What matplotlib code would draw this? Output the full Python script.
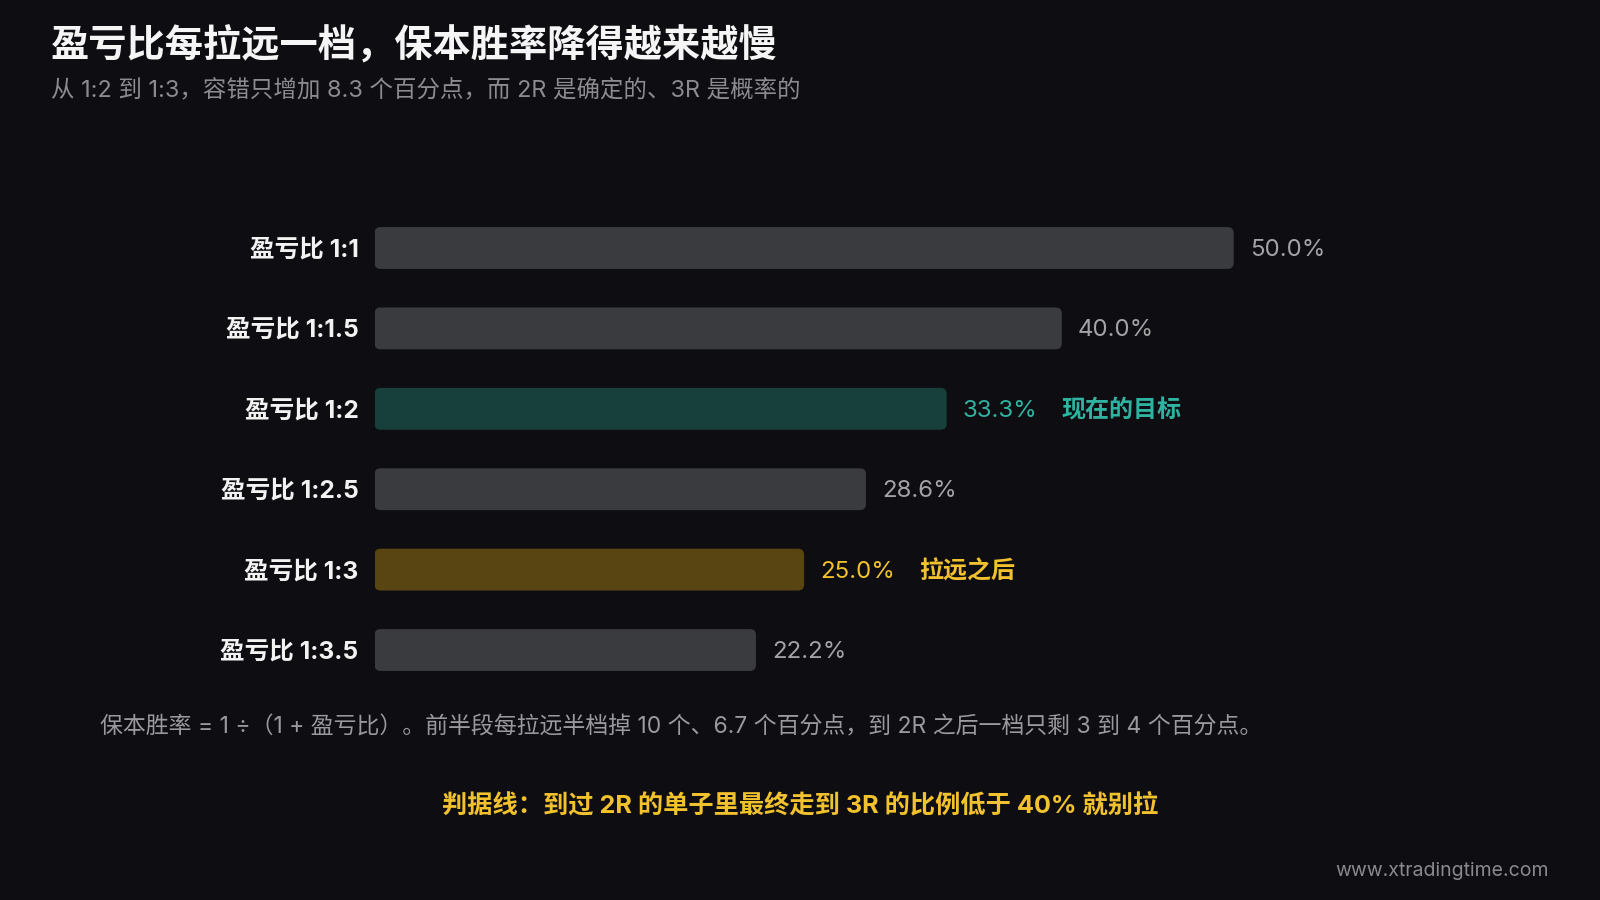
import matplotlib
matplotlib.use('Agg')
import matplotlib.pyplot as plt
from matplotlib.patches import FancyBboxPatch

# latin glyphs from Inter, CJK glyphs fall through to Noto
plt.rcParams['font.family'] = ['Inter', 'Noto Sans CJK SC', 'DejaVu Sans']

# data
labels = ['盈亏比 1:1', '盈亏比 1:1.5', '盈亏比 1:2', '盈亏比 1:2.5', '盈亏比 1:3', '盈亏比 1:3.5']
values = [50.0, 40.0, 33.3, 28.6, 25.0, 22.2]
notes = ['', '', '现在的目标', '', '拉远之后', '']
kinds = ['base', 'base', 'now', 'base', 'after', 'base']

title = '盈亏比每拉远一档，保本胜率降得越来越慢'
subtitle = '从 1:2 到 1:3，容错只增加 8.3 个百分点，而 2R 是确定的、3R 是概率的'
footnote = '保本胜率 = 1 ÷（1 + 盈亏比）。前半段每拉远半档掉 10 个、6.7 个百分点，到 2R 之后一档只剩 3 到 4 个百分点。'
rule = '判据线：到过 2R 的单子里最终走到 3R 的比例低于 40% 就别拉'
site = 'www.xtradingtime.com'

BG = '#0e0e12'
bar_col = {'base': '#3a3b3f', 'now': '#173f3c', 'after': '#594512'}
txt_col = {'base': '#a3a3a6', 'now': '#2fb3a0', 'after': '#f2c12e'}

fig = plt.figure(figsize=(16, 9), dpi=100)
fig.patch.set_facecolor(BG)

# axes placed so that 1% = ~17.2 px, rows ~80 px apart
ax = fig.add_axes([374.5 / 1600, 0.2331, 1031 / 1600, 0.536])
ax.set_facecolor(BG)
ax.set_xlim(0, 60)
ax.set_ylim(len(values) - 0.5, -0.5)
ax.axis('off')

bh = 0.52
for i, (v, k) in enumerate(zip(values, kinds)):
    box = FancyBboxPatch((0, i - bh / 2), v, bh,
                         boxstyle='round,pad=0,rounding_size=0.35',
                         mutation_aspect=0.214,
                         fc=bar_col[k], ec='none')
    ax.add_patch(box)
    ax.annotate(labels[i], (0, i), xytext=(-16, -2), textcoords='offset pixels',
                ha='right', va='center', color='#f2f2f2', fontsize=17.7,
                fontweight='bold')
    ax.annotate(f'{v:.1f}%', (v, i), xytext=(16, -2), textcoords='offset pixels',
                ha='left', va='center', color=txt_col[k], fontsize=17.3)
    if notes[i]:
        ax.annotate(notes[i], (v, i), xytext=(115, -2), textcoords='offset pixels',
                    ha='left', va='center', color=txt_col[k], fontsize=17.3,
                    fontweight='bold')

fig.text(51 / 1600, 1 - 45 / 900, title, color='#f5f5f5', fontsize=27.5,
         fontweight='bold', va='center', ha='left')
fig.text(51 / 1600, 1 - 90 / 900, subtitle, color='#8c8c90', fontsize=16.9,
         va='center', ha='left')
fig.text(100 / 1600, 1 - 727 / 900, footnote, color='#9a9a9e', fontsize=16.5,
         va='center', ha='left')
fig.text(0.5, 1 - 805 / 900, rule, color='#f2c12e', fontsize=18.2,
         fontweight='bold', va='center', ha='center')
fig.text(1549 / 1600, 1 - 871 / 900, site, color='#8a8a8e', fontsize=14,
         va='center', ha='right')

fig.savefig('out.png', dpi=100, facecolor=BG)
